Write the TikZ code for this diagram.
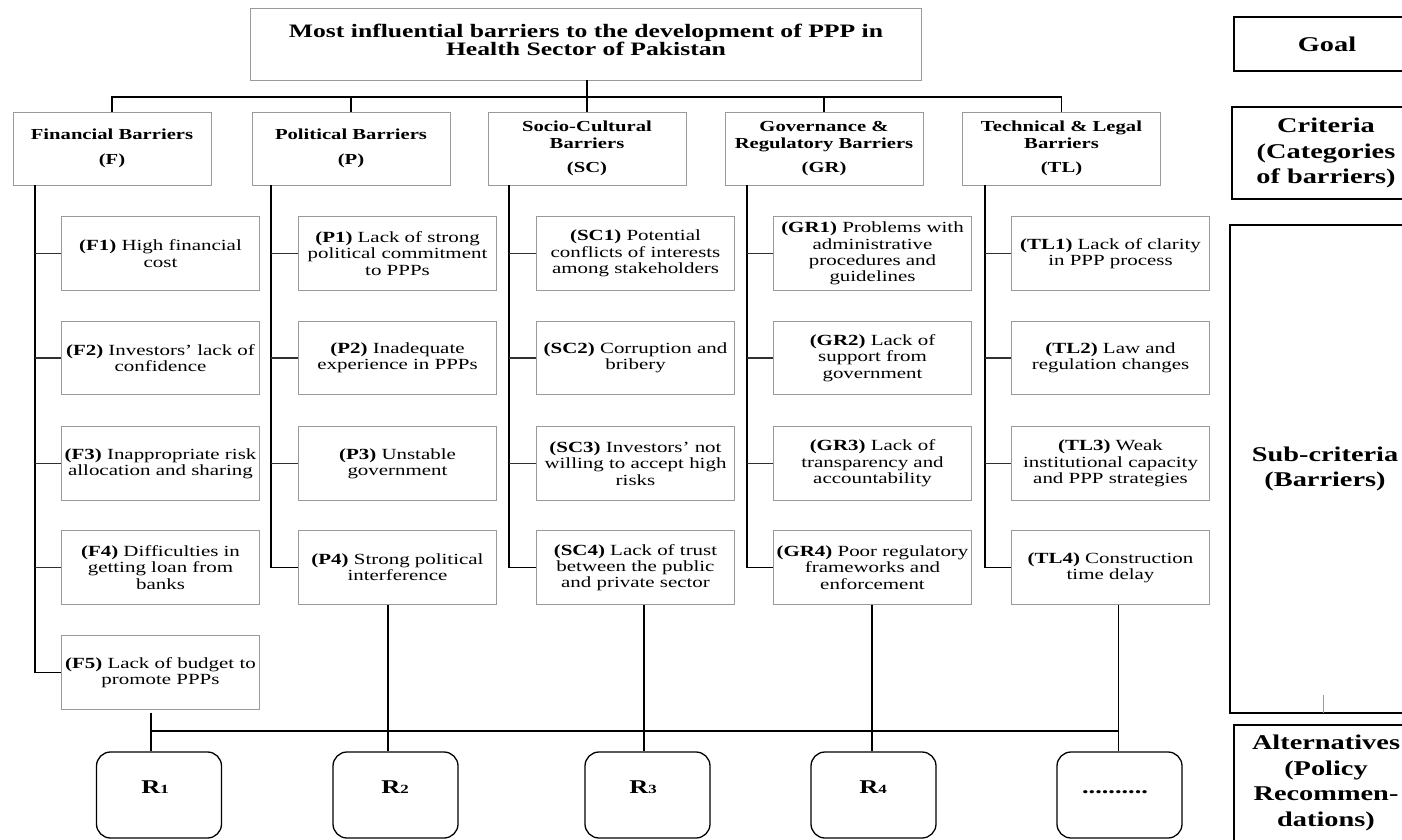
\documentclass[tikz,border=0pt]{standalone}
\usepackage{fontspec}
\setmainfont{Liberation Serif}[FakeStretch=1.35]
\definecolor{boxgray}{HTML}{9A9A9A}
\definecolor{stubgray}{HTML}{303030}
\newcommand\mytitlefnt{\bfseries\fontsize{19}{15}\selectfont}
\newcommand\myheadfnt{\bfseries\fontsize{15.3}{17}\selectfont}
\newcommand\mysubfnt{\fontsize{15.5}{16.3}\selectfont}
\newcommand\mylabfnt{\bfseries\fontsize{21}{25.5}\selectfont}
\newcommand\myrfnt{\bfseries\fontsize{19.5}{20}\selectfont}
\newcommand\rdig[1]{{\fontsize{12.5}{12.5}\selectfont #1}}
\begin{document}
\begin{tikzpicture}[x=1pt,y=-1pt,
  thinbox/.style={draw=boxgray, line width=0.9pt, inner sep=0pt, align=center},
  subbox/.style={thinbox, minimum width=198pt, minimum height=73.5pt, font=\mysubfnt},
  headbox/.style={thinbox, minimum width=198pt, minimum height=73pt, font=\myheadfnt},
  labbox/.style={draw=black, line width=1.3pt, inner sep=0pt, align=center, font=\mylabfnt},
  labtext/.style={inner sep=0pt, align=center, font=\mylabfnt},
  rbox/.style={draw=black, line width=1.3pt, rounded corners=14pt, minimum width=125pt, minimum height=86pt, inner sep=0pt},
  rtext/.style={inner sep=0pt, anchor=base, font=\myrfnt},
  trunk/.style={draw=black, line width=1.6pt},
  stub/.style={draw=stubgray, line width=1.2pt},
  bus/.style={draw=black, line width=1.7pt}
]
\useasboundingbox (0,0) rectangle (1402,840);
\fill[white] (0,0) rectangle (1402,840);

% ---- goal ----
\node[thinbox, minimum width=671pt, minimum height=72pt] (goal) at (585.5,44) {};
\node[inner sep=0pt, align=center, font=\mytitlefnt] (goaltxt) at (586,40)
  {Most influential barriers to the development of PPP in\\Health Sector of Pakistan};

% ---- criteria ----
\node[headbox] (F)  at (112,148.5) {Financial Barriers\\[7.5pt](F)};
\node[headbox] (P)  at (351,148.5) {Political Barriers\\[7.5pt](P)};
\node[headbox] (SC) at (587,148.5) {Socio-Cultural\\Barriers\\[7pt](SC)};
\node[headbox] (GR) at (824,148.5) {Governance \&\\Regulatory Barriers\\[7pt](GR)};
\node[headbox] (TL) at (1061.5,148.5) {Technical \& Legal\\Barriers\\[7pt](TL)};

\coordinate (busT) at (0,97);
\draw[bus] (goal.south -| SC.north) -- (SC.north);
\draw[bus] (F.north) -- (F.north |- busT) -- (TL.north |- busT) -- (TL.north);
\draw[bus] (P.north |- busT) -- (P.north);
\draw[bus] (GR.north |- busT) -- (GR.north);

% ---- sub-criteria ----
\node[subbox] (F1) at (160.5,253.5) {\textbf{(F1)} High financial\\cost};
\node[subbox] (F2) at (160.5,358) {\textbf{(F2)} Investors' lack of\\confidence};
\node[subbox] (F3) at (160.5,463.5) {\textbf{(F3)} Inappropriate risk\\allocation and sharing};
\node[subbox] (F4) at (160.5,567.5) {\textbf{(F4)} Difficulties in\\getting loan from\\banks};
\node[subbox] (F5) at (160.5,672.5) {\textbf{(F5)} Lack of budget to\\promote PPPs};

\node[subbox] (P1) at (397.5,253.5) {\textbf{(P1)} Lack of strong\\political commitment\\to PPPs};
\node[subbox] (P2) at (397.5,358) {\textbf{(P2)} Inadequate\\experience in PPPs};
\node[subbox] (P3) at (397.5,463.5) {\textbf{(P3)} Unstable\\government};
\node[subbox] (P4) at (397.5,567.5) {\textbf{(P4)} Strong political\\interference};

\node[subbox] (SC1) at (635.5,253.5) {\textbf{(SC1)} Potential\\conflicts of interests\\among stakeholders};
\node[subbox] (SC2) at (635.5,358) {\textbf{(SC2)} Corruption and\\bribery};
\node[subbox] (SC3) at (635.5,463.5) {\textbf{(SC3)} Investors’ not\\willing to accept high\\risks};
\node[subbox] (SC4) at (635.5,567.5) {\textbf{(SC4)} Lack of trust\\between the public\\and private sector};

\node[subbox] (GR1) at (872.5,253.5) {\textbf{(GR1)} Problems with\\administrative\\procedures and\\guidelines};
\node[subbox] (GR2) at (872.5,358) {\textbf{(GR2)} Lack of\\support from\\government};
\node[subbox] (GR3) at (872.5,463.5) {\textbf{(GR3)} Lack of\\transparency and\\accountability};
\node[subbox] (GR4) at (872.5,567.5) {\textbf{(GR4)} Poor regulatory\\frameworks and\\enforcement};

\node[subbox] (TL1) at (1110.5,253.5) {\textbf{(TL1)} Lack of clarity\\in PPP process};
\node[subbox] (TL2) at (1110.5,358) {\textbf{(TL2)} Law and\\regulation changes};
\node[subbox] (TL3) at (1110.5,463.5) {\textbf{(TL3)} Weak\\institutional capacity\\and PPP strategies};
\node[subbox] (TL4) at (1110.5,567.5) {\textbf{(TL4)} Construction\\time delay};

% ---- trunks and stubs ----
\coordinate (tF) at (35,0);
\coordinate (tP) at (271,0);
\coordinate (tSC) at (509,0);
\coordinate (tGR) at (747,0);
\coordinate (tTL) at (985,0);

\draw[trunk] (F.south -| tF) -- (tF |- F5.west) -- (F5.west);
\foreach \b in {F1,F2,F3,F4} \draw[stub] (tF |- \b.west) -- (\b.west);
\draw[trunk] (P.south -| tP) -- (tP |- P4.west) -- (P4.west);
\foreach \b in {P1,P2,P3} \draw[stub] (tP |- \b.west) -- (\b.west);
\draw[trunk] (SC.south -| tSC) -- (tSC |- SC4.west) -- (SC4.west);
\foreach \b in {SC1,SC2,SC3} \draw[stub] (tSC |- \b.west) -- (\b.west);
\draw[trunk] (GR.south -| tGR) -- (tGR |- GR4.west) -- (GR4.west);
\foreach \b in {GR1,GR2,GR3} \draw[stub] (tGR |- \b.west) -- (\b.west);
\draw[trunk] (TL.south -| tTL) -- (tTL |- TL4.west) -- (TL4.west);
\foreach \b in {TL1,TL2,TL3} \draw[stub] (tTL |- \b.west) -- (\b.west);

% ---- alternatives ----
\node[rbox] (R1) at (159,795) {};
\node[rbox] (R2) at (395.5,795) {};
\node[rbox] (R3) at (647.5,795) {};
\node[rbox] (R4) at (873.5,795) {};
\node[rbox] (R5) at (1119.5,795) {};
\node[rtext] (R1t) at (155,793) {R\rdig{1}};
\node[rtext] (R2t) at (395,793) {R\rdig{2}};
\node[rtext] (R3t) at (643,793) {R\rdig{3}};
\node[rtext] (R4t) at (873,793) {R\rdig{4}};
\node[rtext] (R5t) at (1115,793) {..........};

\coordinate (busB) at (0,731);
\coordinate (xA) at (151,0);
\coordinate (xB) at (388,0);
\coordinate (xC) at (644,0);
\coordinate (xD) at (872,0);
\coordinate (xE) at (1118.5,0);
\draw[bus] (xA |- F5.south) ++(0,3) -- (xA |- R1.north);
\draw[bus] (xA |- busB) -- (xE |- busB);
\draw[bus] (xB |- P4.south) -- (xB |- R2.north);
\draw[bus] (xC |- SC4.south) -- (xC |- R3.north);
\draw[bus] (xD |- GR4.south) -- (xD |- R4.north);
\draw[bus] (xE |- TL4.south) -- (xE |- R5.north);

% ---- level labels ----
\node[labbox, minimum width=186pt, minimum height=54pt] (Lgoal) at (1327,44) {Goal};
\node[labbox, minimum width=188pt, minimum height=92pt] (Lcrit) at (1326,153) {Criteria\\(Categories\\of barriers)};
\node[labbox, minimum width=190pt, minimum height=488pt] (Lsub) at (1325,469) {Sub-criteria\\(Barriers)};
\draw[draw=boxgray, line width=0.8pt] (1323,695) -- (1323,713);
\node[labbox, minimum width=186pt, minimum height=145pt] (Lalt) at (1327,797.5) {};
\node[labtext] (Lalttxt) at (1326,783) {Alternatives\\(Policy\\Recommen-\\dations)};
\end{tikzpicture}
\end{document}
